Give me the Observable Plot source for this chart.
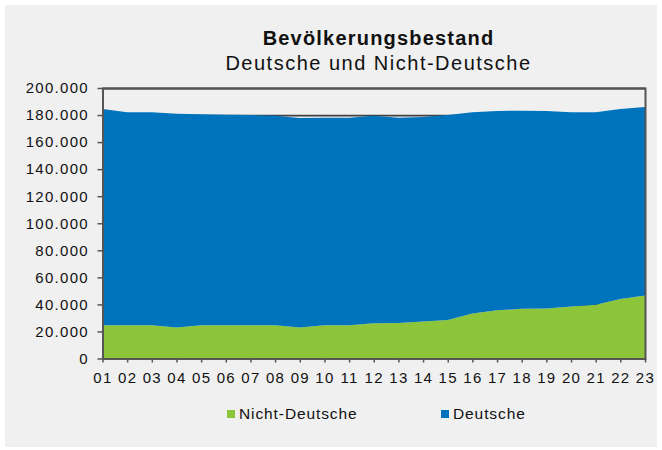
<!DOCTYPE html>
<html>
<head>
<meta charset="utf-8">
<script src="https://cdn.jsdelivr.net/npm/d3@7"></script>
<script src="https://cdn.jsdelivr.net/npm/@observablehq/plot@0.6"></script>
<style>
  html, body { margin: 0; padding: 0; background: #ffffff; }
  #wrap { position: relative; width: 662px; height: 450px; overflow: hidden; font-family: "Liberation Sans", Arial, sans-serif; color: #111; }
  #box { position: absolute; left: 5px; top: 5px; width: 652px; height: 442px; background: #f0f0f0; }
  #chart { position: absolute; left: 0; top: 0; }
  #chart svg text { letter-spacing: 1.3px; }
  .title { position: absolute; left: 0; width: 757px; text-align: center; white-space: nowrap; }
  #t1 { top: 27px; font-size: 20px; font-weight: bold; letter-spacing: 1.2px; }
  #t2 { top: 52px; font-size: 20px; letter-spacing: 1.5px; }
  .leg { position: absolute; top: 405px; font-size: 15.5px; letter-spacing: 0.9px; white-space: nowrap; }
  .sw { display: inline-block; width: 8px; height: 8px; margin-right: 4px; vertical-align: 1px; }
</style>
</head>
<body>
<div id="wrap">
  <div id="box"></div>
  <div id="chart"></div>
  <div class="title" id="t1">Bevölkerungsbestand</div>
  <div class="title" id="t2">Deutsche und Nicht-Deutsche</div>
  <div class="leg" id="leg1" style="left:227px"><span class="sw" style="background:#8cc43a"></span>Nicht-Deutsche</div>
  <div class="leg" id="leg2" style="left:441px"><span class="sw" style="background:#0073bd"></span>Deutsche</div>
</div>
<script>
// x categories (years 2001..2023 shown as two-digit labels)
const years = [1,2,3,4,5,6,7,8,9,10,11,12,13,14,15,16,17,18,19,20,21,22,23];
const yearLabels = ["01","02","03","04","05","06","07","08","09","10","11","12","13","14","15","16","17","18","19","20","21","22","23"];
// series values (persons)
const nichtDeutsche = [24500,24500,24500,23000,24500,24500,24500,24500,23000,24500,24500,26000,26200,27300,28500,33300,35600,36800,37000,38500,39700,44000,46500];
const deutsche = [160000,157500,157500,158000,156000,155700,155500,155000,154800,153500,153500,153500,151800,151200,151500,148700,147400,146400,146000,143500,142300,140500,139500];
const seriesNames = ["Nicht-Deutsche","Deutsche"];
const seriesColors = ["#8cc43a","#0073bd"];
const yTicks = [0,20000,40000,60000,80000,100000,120000,140000,160000,180000,200000];

const data = [];
years.forEach((yr, i) => {
  data.push({year: yr, series: seriesNames[0], value: nichtDeutsche[i]});
  data.push({year: yr, series: seriesNames[1], value: deutsche[i]});
});

const fmt = v => d3.format(",")(v).replace(/,/g, ".");

const plot = Plot.plot({
  width: 662,
  height: 400,
  marginTop: 88,
  marginBottom: 41.5,
  marginLeft: 102.5,
  marginRight: 17,
  style: {fontFamily: "Liberation Sans, Arial, sans-serif", fontSize: "15px", background: "transparent", color: "#111", overflow: "visible"},
  x: {type: "linear", domain: [1, 23], label: null},
  y: {domain: [0, 200000], label: null},
  color: {domain: seriesNames, range: seriesColors},
  marks: [
    Plot.gridY(yTicks, {stroke: "#404040", strokeOpacity: 1, strokeWidth: 1.8}),
    Plot.areaY(data, {x: "year", y: "value", fill: "series", order: seriesNames}),
    Plot.frame({stroke: "#555555", strokeWidth: 2}),
    Plot.axisY(yTicks, {label: null, tickSize: 5, tickPadding: 9, tickFormat: fmt, stroke: "#555555", strokeWidth: 1.5, fill: "#111"}),
    Plot.axisX(years, {label: null, tickSize: 4, tickPadding: 9, tickFormat: d => yearLabels[years.indexOf(d)], stroke: "#555555", strokeWidth: 1.5, fill: "#111"})
  ]
});
document.getElementById("chart").appendChild(plot);
</script>
</body>
</html>
